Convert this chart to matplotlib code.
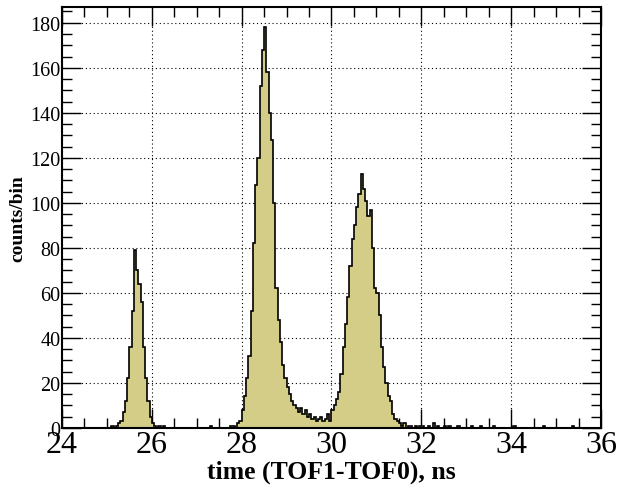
import numpy as np
import matplotlib
matplotlib.use('Agg')
import matplotlib.pyplot as plt
from matplotlib.ticker import MultipleLocator

# histogram: 0.05 ns bins from 24 to 36 ns, one row per ns
bin_lo = 24.0
bin_w = 0.05
counts = [
    0, 0, 0, 0, 0, 0, 0, 0, 0, 0, 0, 0, 0, 0, 0, 0, 0, 0, 0, 0,                       # 24
    0, 0, 1, 0, 1, 2, 3, 7, 12, 22, 36, 52, 79, 70, 64, 56, 36, 22, 12, 5,            # 25
    2, 1, 0, 1, 0, 1, 0, 0, 0, 0, 0, 0, 0, 0, 0, 0, 0, 0, 0, 0,                       # 26
    0, 0, 0, 0, 0, 0, 1, 0, 0, 0, 0, 0, 0, 0, 0, 1, 1, 0, 2, 3,                       # 27
    8, 14, 22, 32, 52, 82, 108, 120, 152, 168, 178, 158, 140, 128, 100, 62, 48, 38, 28, 22,  # 28
    18, 15, 12, 10, 9, 7, 9, 6, 8, 5, 6, 4, 5, 3, 4, 5, 3, 4, 6, 3,                   # 29
    8, 10, 13, 16, 24, 36, 46, 58, 72, 84, 90, 98, 104, 113, 106, 101, 94, 97, 80, 62,  # 30
    60, 50, 36, 27, 20, 14, 12, 6, 4, 3, 2, 1, 2, 0, 1, 1, 0, 1, 0, 1,                # 31
    1, 0, 0, 1, 0, 2, 0, 1, 0, 0, 1, 0, 1, 0, 0, 0, 1, 0, 0, 0,                       # 32
    0, 0, 1, 0, 0, 0, 1, 0, 0, 0, 0, 0, 1, 0, 0, 0, 0, 0, 0, 0,                       # 33
    0, 1, 0, 0, 0, 0, 0, 0, 0, 0, 0, 0, 0, 0, 1, 0, 0, 0, 0, 0,                       # 34
    0, 0, 0, 0, 0, 0, 0, 1, 0, 0, 0, 0, 0, 0, 0, 0, 0, 0, 0, 0,                       # 35
]

x_range = (24, 36)
y_max = 187

fill_col = '#d3cd88'

plt.rcParams['font.family'] = ['Liberation Serif', 'DejaVu Serif']

fig = plt.figure(figsize=(6.19, 4.89), dpi=100)
ax = fig.add_axes([0.100, 0.1227, 0.871, 0.861])

edges = bin_lo + bin_w * np.arange(len(counts) + 1)
ax.stairs(counts, edges, baseline=0, fill=True, color=fill_col, zorder=2)
ax.stairs(counts, edges, baseline=0, color='black', lw=1.2, zorder=3)

ax.set_xlim(*x_range)
ax.set_ylim(0, y_max)

ax.xaxis.set_major_locator(MultipleLocator(2))
ax.xaxis.set_minor_locator(MultipleLocator(0.5))
ax.yaxis.set_major_locator(MultipleLocator(20))
ax.yaxis.set_minor_locator(MultipleLocator(5))

ax.tick_params(which='both', direction='in', top=True, right=True, width=1.0, color='black')
ax.tick_params(which='major', length=14)
ax.tick_params(which='minor', length=7)
ax.tick_params(axis='x', labelsize=23, pad=1.5)
ax.tick_params(axis='y', labelsize=14.5, pad=1)

ax.grid(True, which='major', color='black', linestyle=(0, (1, 2.5)), linewidth=0.8, zorder=1)
ax.set_axisbelow(True)

for s in ax.spines.values():
    s.set_linewidth(1.5)
    s.set_zorder(4)

ax.set_xlabel('time (TOF1-TOF0), ns', fontsize=18.5, fontweight='bold', labelpad=0)
ax.set_ylabel('counts/bin', fontsize=14, fontweight='bold', labelpad=3)

fig.savefig('out.png', dpi=100)
